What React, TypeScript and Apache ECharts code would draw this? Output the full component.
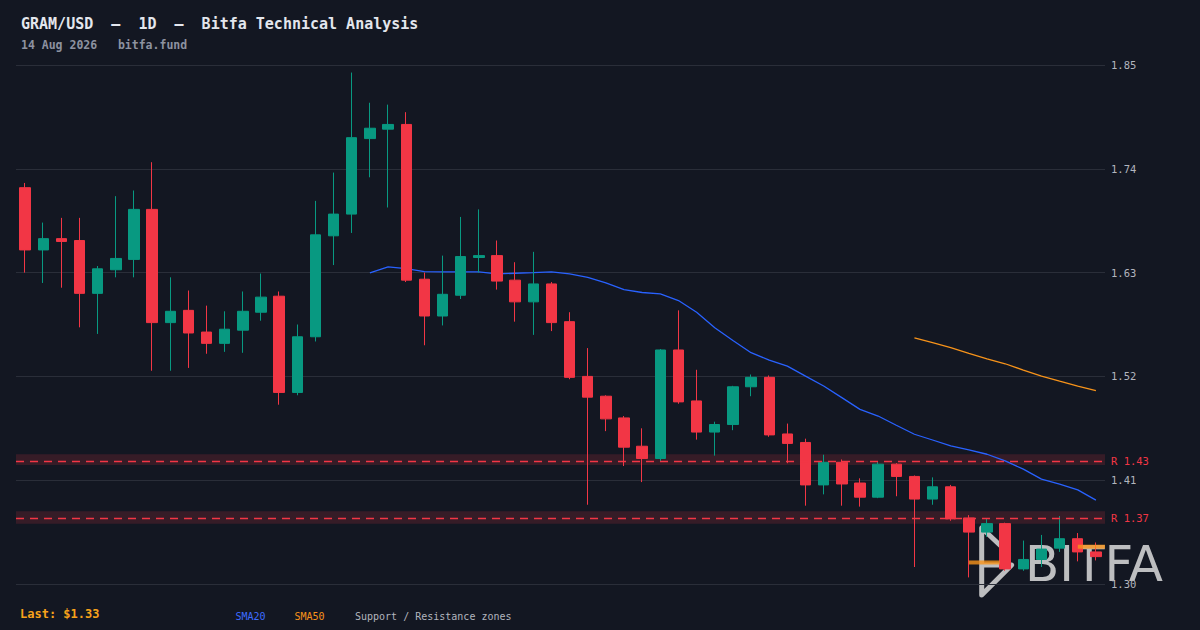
import React, { useEffect, useRef } from "react";
import * as echarts from "echarts";

// ---- data ----
const CATEGORIES = [
  "06-16", "06-17", "06-18", "06-19", "06-20", "06-21", "06-22", "06-23", "06-24", "06-25",
  "06-26", "06-27", "06-28", "06-29", "06-30", "07-01", "07-02", "07-03", "07-04", "07-05",
  "07-06", "07-07", "07-08", "07-09", "07-10", "07-11", "07-12", "07-13", "07-14", "07-15",
  "07-16", "07-17", "07-18", "07-19", "07-20", "07-21", "07-22", "07-23", "07-24", "07-25",
  "07-26", "07-27", "07-28", "07-29", "07-30", "07-31", "08-01", "08-02", "08-03", "08-04",
  "08-05", "08-06", "08-07", "08-08", "08-09", "08-10", "08-11", "08-12", "08-13", "08-14",
];

const OPEN = [
  1.720, 1.654, 1.666, 1.664, 1.608, 1.633, 1.644, 1.697, 1.577, 1.590,
  1.567, 1.555, 1.569, 1.588, 1.605, 1.503, 1.562, 1.669, 1.692, 1.772,
  1.782, 1.787, 1.623, 1.584, 1.606, 1.646, 1.648, 1.622, 1.599, 1.618,
  1.578, 1.520, 1.499, 1.476, 1.446, 1.433, 1.548, 1.494, 1.461, 1.469,
  1.509, 1.519, 1.459, 1.450, 1.405, 1.429, 1.407, 1.392, 1.427, 1.414,
  1.390, 1.403, 1.370, 1.355, 1.364, 1.316, 1.326, 1.338, 1.348, 1.334,
];
const CLOSE = [
  1.654, 1.666, 1.663, 1.608, 1.634, 1.645, 1.697, 1.577, 1.589, 1.566,
  1.555, 1.570, 1.589, 1.604, 1.503, 1.562, 1.670, 1.692, 1.773, 1.783,
  1.787, 1.622, 1.584, 1.607, 1.647, 1.648, 1.621, 1.599, 1.618, 1.577,
  1.519, 1.498, 1.475, 1.445, 1.433, 1.548, 1.493, 1.461, 1.469, 1.509,
  1.519, 1.458, 1.449, 1.405, 1.429, 1.406, 1.392, 1.427, 1.414, 1.390,
  1.403, 1.369, 1.355, 1.364, 1.316, 1.326, 1.337, 1.348, 1.334, 1.329,
];
const LOW = [
  1.630, 1.619, 1.614, 1.572, 1.565, 1.625, 1.625, 1.526, 1.526, 1.529,
  1.544, 1.546, 1.545, 1.579, 1.490, 1.500, 1.557, 1.638, 1.672, 1.731,
  1.699, 1.620, 1.553, 1.574, 1.602, 1.630, 1.612, 1.578, 1.564, 1.568,
  1.517, 1.384, 1.462, 1.425, 1.408, 1.430, 1.491, 1.453, 1.436, 1.463,
  1.499, 1.456, 1.428, 1.383, 1.395, 1.383, 1.382, 1.391, 1.393, 1.318,
  1.384, 1.367, 1.307, 1.350, 1.314, 1.314, 1.318, 1.334, 1.324, 1.325,
];
const HIGH = [
  1.725, 1.683, 1.688, 1.688, 1.637, 1.711, 1.717, 1.747, 1.625, 1.611,
  1.595, 1.589, 1.610, 1.629, 1.610, 1.575, 1.706, 1.736, 1.842, 1.810,
  1.808, 1.800, 1.630, 1.648, 1.689, 1.697, 1.664, 1.641, 1.652, 1.620,
  1.588, 1.550, 1.500, 1.478, 1.465, 1.549, 1.590, 1.527, 1.472, 1.510,
  1.522, 1.521, 1.470, 1.454, 1.437, 1.432, 1.412, 1.430, 1.428, 1.415,
  1.413, 1.405, 1.373, 1.369, 1.365, 1.346, 1.352, 1.372, 1.354, 1.344,
];

// SMA20 starts at candle index 19, SMA50 at index 49
const SMA20_START = 19;
const SMA20_VALUES = [
  1.6297, 1.6360, 1.6342, 1.6311, 1.6308, 1.6308, 1.6308, 1.6286, 1.6293, 1.6300,
  1.6308, 1.6286, 1.6250, 1.6191, 1.6120, 1.6089, 1.6075, 1.6004, 1.5880, 1.5715,
  1.5581, 1.5451, 1.5373, 1.5309, 1.5203, 1.5098, 1.4975, 1.4851, 1.4780, 1.4682,
  1.4587, 1.4526, 1.4463, 1.4421, 1.4375, 1.4304, 1.4217, 1.4111, 1.4058, 1.3998,
  1.3889,
];
const SMA50_START = 49;
const SMA50_VALUES = [
  1.5609, 1.5557, 1.5504, 1.5443, 1.5387, 1.5334, 1.5267, 1.5203, 1.5150, 1.5098,
  1.5049,
];

const Y_MIN = 1.3;
const Y_MAX = 1.85;
const Y_STEP = 0.11;

const RESISTANCE_LEVELS = [1.432, 1.3705];
const RESISTANCE_LOW = [1.4262, 1.3638];
const RESISTANCE_HIGH = [1.4375, 1.3772];

// short orange level marks (positions on a 0..60 candle scale)
const MARK_VALUES = [1.3228, 1.3395];
const MARK_FROM = [52.5, 58.5];
const MARK_TO = [54.2, 60];

// ---- styles ----
const BG = "#131722";
const UP = "#089981";
const DOWN = "#f23645";
const BLUE = "#2962ff";
const ORANGE = "#f7931a";
const GRID = "#2a2e39";
const MONO = '"DejaVu Sans Mono", monospace';

export default function App() {
  const ref = useRef<HTMLDivElement>(null);

  useEffect(() => {
    document.body.style.margin = "0";
    document.body.style.background = BG;
    const chart = echarts.init(ref.current!, undefined, { renderer: "svg" });

    const candles = CATEGORIES.map((_, i) => [OPEN[i], CLOSE[i], LOW[i], HIGH[i]]);
    const sma20 = CATEGORIES.map((_, i) =>
      i >= SMA20_START ? SMA20_VALUES[i - SMA20_START] : null
    );
    const sma50 = CATEGORIES.map((_, i) =>
      i >= SMA50_START ? SMA50_VALUES[i - SMA50_START] : null
    );
    const last = CLOSE[CLOSE.length - 1];

    const markSeries = MARK_VALUES.map((v, k) => ({
      type: "line",
      xAxisIndex: 1,
      data: [
        [MARK_FROM[k], v],
        [MARK_TO[k], v],
      ],
      symbol: "none",
      silent: true,
      z: 5,
      lineStyle: { color: "rgba(247,147,26,0.8)", width: 4 },
    }));

    chart.setOption({
      animation: false,
      backgroundColor: BG,
      grid: { left: 16, right: 95, top: 65, bottom: 46 },
      xAxis: [
        { type: "category", data: CATEGORIES, boundaryGap: true, show: false },
        { type: "value", min: 0, max: CATEGORIES.length, show: false },
      ],
      yAxis: {
        type: "value",
        position: "right",
        min: Y_MIN,
        max: Y_MAX,
        interval: Y_STEP,
        axisLine: { show: false },
        axisTick: { show: false },
        splitLine: { show: true, lineStyle: { color: GRID, width: 1 } },
        axisLabel: {
          color: "#b2b5be",
          fontFamily: MONO,
          fontSize: 10.5,
          margin: 6,
          formatter: (v: number) => v.toFixed(2),
        },
      },
      series: [
        {
          type: "line",
          name: "zones",
          data: CATEGORIES.map(() => null),
          z: 1,
          silent: true,
          markArea: {
            silent: true,
            itemStyle: { color: "rgba(242,54,69,0.16)" },
            data: RESISTANCE_LEVELS.map((_, k) => [
              { yAxis: RESISTANCE_LOW[k] },
              { yAxis: RESISTANCE_HIGH[k] },
            ]),
          },
        },
        {
          type: "line",
          name: "SMA20",
          data: sma20,
          symbol: "none",
          z: 2,
          lineStyle: { color: BLUE, width: 1.3 },
        },
        {
          type: "line",
          name: "SMA50",
          data: sma50,
          symbol: "none",
          z: 2,
          lineStyle: { color: ORANGE, width: 1.3 },
        },
        {
          type: "candlestick",
          name: "GRAM/USD",
          data: candles,
          barWidth: "60%",
          z: 3,
          itemStyle: {
            color: UP,
            color0: DOWN,
            borderColor: UP,
            borderColor0: DOWN,
            borderWidth: 1,
          },
          markLine: {
            silent: true,
            symbol: ["none", "none"],
            lineStyle: { color: DOWN, type: [8, 6], width: 1.3 },
            label: {
              position: "end",
              distance: 6,
              color: DOWN,
              fontFamily: MONO,
              fontSize: 10.5,
              formatter: (p: any) => "R " + Number(p.value).toFixed(2),
            },
            data: RESISTANCE_LEVELS.map((v) => ({ yAxis: v })),
          },
        },
        ...markSeries,
      ],
      graphic: [
        {
          type: "text",
          x: 21,
          y: 24,
          style: {
            text: "GRAM/USD  –  1D  –  Bitfa Technical Analysis",
            font: `bold 15px ${MONO}`,
            fill: "#e3e6ed",
            verticalAlign: "middle",
          },
        },
        {
          type: "text",
          x: 21,
          y: 45,
          style: {
            text: "14 Aug 2026   bitfa.fund",
            font: `bold 11.5px ${MONO}`,
            fill: "#8d92a0",
            verticalAlign: "middle",
          },
        },
        {
          type: "text",
          x: 20,
          y: 614,
          style: {
            text: "Last: $" + last.toFixed(2),
            font: `bold 12px ${MONO}`,
            fill: "#f7a21b",
            verticalAlign: "middle",
          },
        },
        {
          type: "text",
          x: 235.5,
          y: 616,
          style: { text: "SMA20", font: `10px ${MONO}`, fill: "#3d6cff", verticalAlign: "middle" },
        },
        {
          type: "text",
          x: 294.5,
          y: 616,
          style: { text: "SMA50", font: `10px ${MONO}`, fill: ORANGE, verticalAlign: "middle" },
        },
        {
          type: "text",
          x: 355,
          y: 616,
          style: {
            text: "Support / Resistance zones",
            font: `10px ${MONO}`,
            fill: "#b2b5be",
            verticalAlign: "middle",
          },
        },
        {
          type: "group",
          z: 100,
          children: [
            {
              type: "polyline",
              shape: {
                points: [
                  [1003.3, 548.3],
                  [981.7, 528],
                  [981.7, 595],
                  [1011.7, 565],
                  [981.7, 565],
                ],
              },
              style: {
                stroke: "#dcdcdc",
                lineWidth: 5,
                fill: "none",
                lineCap: "round",
                lineJoin: "round",
                opacity: 0.85,
              },
            },
            {
              type: "text",
              x: 1025,
              y: 563.5,
              style: {
                text: "BITFA",
                font: '50px "DejaVu Sans"',
                fill: "#dcdcdc",
                verticalAlign: "middle",
                opacity: 0.85,
              },
            },
          ],
        },
      ],
    });

    return () => chart.dispose();
  }, []);

  return <div ref={ref} style={{ width: 1200, height: 630 }} />;
}
